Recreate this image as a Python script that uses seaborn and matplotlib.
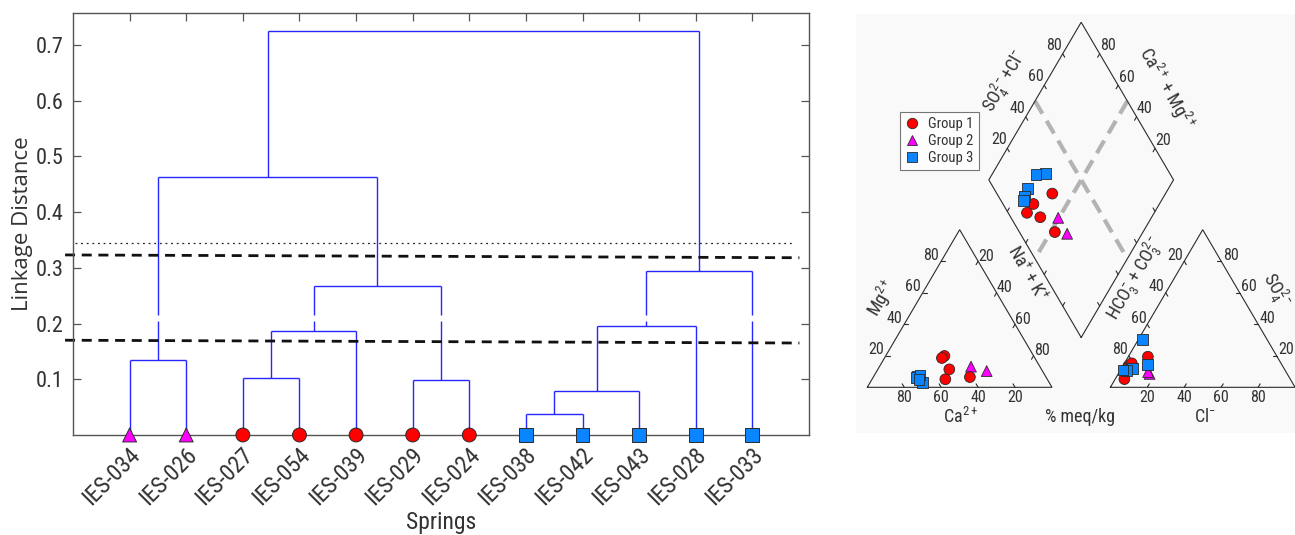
import numpy as np
import pandas as pd
import matplotlib
matplotlib.use("Agg")
import matplotlib.pyplot as plt
import seaborn as sns
from matplotlib import font_manager as fm
from matplotlib.lines import Line2D
from matplotlib.transforms import ScaledTranslation

# ---------------------------------------------------------------- data
SPRINGS = ['IES-034', 'IES-026', 'IES-027', 'IES-054', 'IES-039', 'IES-029',
           'IES-024', 'IES-038', 'IES-042', 'IES-043', 'IES-028', 'IES-033']
GROUPS = ['Group 2', 'Group 2', 'Group 1', 'Group 1', 'Group 1', 'Group 1',
          'Group 1', 'Group 3', 'Group 3', 'Group 3', 'Group 3', 'Group 3']

# linkage (leaves 0..11 in display order, merged nodes numbered 12..22)
MERGE_LEFT = [0, 2, 13, 5, 14, 12, 7, 18, 19, 20, 17]
MERGE_RIGHT = [1, 3, 4, 6, 15, 16, 8, 9, 10, 11, 21]
MERGE_HEIGHT = [0.135, 0.102, 0.187, 0.099, 0.268, 0.463,
                0.038, 0.079, 0.195, 0.294, 0.724]

# cut levels (left end, right end)
DOTTED_CUT = [0.345, 0.345]
DASHED_CUT_HIGH = [0.323, 0.318]
DASHED_CUT_LOW = [0.170, 0.165]

# Piper compositions (% meq), same order as SPRINGS
CA = [37.3, 30.2, 48.3, 50.3, 49.9, 55.2, 41.2, 68.6, 69.1, 70.1, 67.6, 69.4]
MG = [13.1, 10.3, 19.9, 18.6, 11.4, 5.1, 6.5, 2.9, 7.2, 6.3, 7.8, 5.1]
NAK = [49.6, 59.5, 31.8, 31.1, 38.7, 39.7, 52.3, 28.5, 23.7, 23.6, 24.6, 25.5]
HCO3 = [74.5, 74.7, 83.5, 89.8, 70.0, 84.0, 80.8, 67.5, 72.7, 82.0, 86.0, 87.7]
SO4 = [8.5, 9.7, 13.5, 5.2, 19.4, 12.5, 15.2, 30.4, 14.3, 12.0, 10.5, 11.0]
CL = [17.0, 15.6, 3.0, 5.0, 10.6, 3.5, 4.0, 2.1, 13.0, 6.0, 3.5, 1.3]

Y_TICKS = [0.1, 0.2, 0.3, 0.4, 0.5, 0.6, 0.7]
PIPER_TICKS = [20, 40, 60, 80]

# ---------------------------------------------------------------- style
sns.set_theme(style="white")
names = {f.name for f in fm.fontManager.ttflist}
NARROW = next((n for n in ['Liberation Sans Narrow', 'Roboto Condensed',
                           'Open Sans Condensed'] if n in names), 'Liberation Sans')
WIDE = 'Open Sans' if 'Open Sans' in names else 'DejaVu Sans'
plt.rcParams['font.family'] = [NARROW, 'DejaVu Sans']
plt.rcParams['mathtext.fontset'] = 'custom'
plt.rcParams['mathtext.rm'] = NARROW
plt.rcParams['mathtext.it'] = NARROW
plt.rcParams['mathtext.bf'] = NARROW

PALETTE = {'Group 1': '#ff0000', 'Group 2': '#ff00ff', 'Group 3': '#0a84ff'}
MARKERS = {'Group 1': 'o', 'Group 2': '^', 'Group 3': 's'}
DENDRO_COLOR = '#2626ff'
TEXT_COLOR = '#333333'
SPINE_COLOR = '#555555'

fig = plt.figure(figsize=(12.95, 5.35), dpi=100)

# ================================================================ dendrogram
ax = fig.add_axes([0.05637, 0.18692, 0.56834, 0.78879])
n = len(SPRINGS)
pos = {i: i + 1 for i in range(n)}
hgt = {i: 0.0 for i in range(n)}
GAP_LO, GAP_HI = 0.205, 0.216


def vline(x, y0, y1):
    if y0 < GAP_LO and y1 > GAP_HI:
        ax.plot([x, x], [y0, GAP_LO], color=DENDRO_COLOR, lw=1.0, solid_capstyle='butt')
        ax.plot([x, x], [GAP_HI, y1], color=DENDRO_COLOR, lw=1.0, solid_capstyle='butt')
    else:
        ax.plot([x, x], [y0, y1], color=DENDRO_COLOR, lw=1.0, solid_capstyle='butt')


for k, (l, r, h) in enumerate(zip(MERGE_LEFT, MERGE_RIGHT, MERGE_HEIGHT)):
    xl, xr = pos[l], pos[r]
    vline(xl, hgt[l], h)
    vline(xr, hgt[r], h)
    ax.plot([xl, xr], [h, h], color=DENDRO_COLOR, lw=1.0, solid_capstyle='butt')
    pos[n + k] = (xl + xr) / 2
    hgt[n + k] = h

leaf_df = pd.DataFrame({'x': np.arange(1, n + 1), 'y': np.zeros(n), 'group': GROUPS})
sns.scatterplot(data=leaf_df, x='x', y='y', hue='group', style='group',
                palette=PALETTE, markers=MARKERS, s=100, edgecolor='#2a2a2a',
                linewidth=0.7, legend=False, ax=ax, clip_on=False, zorder=5)

CUT_X = (-0.14, 12.83)
DOT_X = (0.04, 12.74)
ax.plot(DOT_X, DOTTED_CUT, color='#222222', lw=0.9, dashes=(1.5, 3), clip_on=False)
ax.plot(CUT_X, DASHED_CUT_HIGH, color='#111111', lw=2.0, dashes=(3.6, 2.4), clip_on=False)
ax.plot(CUT_X, DASHED_CUT_LOW, color='#111111', lw=2.0, dashes=(3.6, 2.4), clip_on=False)

ax.set_xlim(0, 13)
ax.set_ylim(0, 0.757)
ax.set_yticks(Y_TICKS)
ax.set_yticklabels([f'{v:.1f}' for v in Y_TICKS], fontsize=16, color=TEXT_COLOR)
ax.set_xticks(np.arange(1, n + 1))
ax.set_xticklabels(SPRINGS, rotation=45, ha='right', va='center',
                   rotation_mode='anchor', fontsize=17, color=TEXT_COLOR)
ax.tick_params(axis='both', direction='in', length=5.5, width=0.9, color=SPINE_COLOR,
               top=True, right=True, bottom=True, left=True)
ax.tick_params(axis='x', pad=12)
ax.tick_params(axis='y', pad=7)
for lab in ax.get_xticklabels():
    lab.set_transform(lab.get_transform() + ScaledTranslation(0.07, 0, fig.dpi_scale_trans))
for s in ax.spines.values():
    s.set_color(SPINE_COLOR)
    s.set_linewidth(1.0)
ax.set_xlabel('Springs', fontsize=17, color=TEXT_COLOR)
ax.xaxis.set_label_coords(0.5, -0.18)
ax.set_ylabel('Linkage Distance', fontsize=16, color=TEXT_COLOR, family=[WIDE, 'DejaVu Sans'])
ax.yaxis.set_label_coords(-0.054, 0.5)

# ================================================================ Piper diagram
ax2 = fig.add_axes([0.66100, 0.19065, 0.33900, 0.78318])
ax2.set_facecolor('#f9f9f9')
ax2.set_xticks([])
ax2.set_yticks([])
for s in ax2.spines.values():
    s.set_visible(False)

SIDE, GAP = 100.0, 31.6
K = np.sqrt(3) / 2
OX = SIDE + GAP
BX, BY = SIDE + GAP / 2, GAP * K


def cat_xy(ca, mg, na):
    t = ca + mg + na
    mg, na = mg / t * 100, na / t * 100
    return na + 0.5 * mg, K * mg


def an_xy(hco3, so4, cl):
    t = hco3 + so4 + cl
    so4, cl = so4 / t * 100, cl / t * 100
    return OX + cl + 0.5 * so4, K * so4


def dia_xy(camg, so4cl):
    return BX + 0.5 * (so4cl - camg), BY + K * (camg + so4cl)


LINE = dict(color='#2b2b2b', lw=0.8, solid_joinstyle='miter')
ax2.plot([0, SIDE, SIDE / 2, 0], [0, 0, SIDE * K, 0], **LINE)
ax2.plot([OX, OX + SIDE, OX + SIDE / 2, OX], [0, 0, SIDE * K, 0], **LINE)
corners = [dia_xy(0, 0), dia_xy(100, 0), dia_xy(100, 100), dia_xy(0, 100), dia_xy(0, 0)]
ax2.plot([c[0] for c in corners], [c[1] for c in corners], **LINE)

# 50% dashed division lines of the diamond
for a, b in [((100, 50), (0, 50)), ((50, 100), (50, 0))]:
    p, q = dia_xy(*a), dia_xy(*b)
    ax2.plot([p[0], q[0]], [p[1], q[1]], color='#b3b3b3', lw=3.0, dashes=(3.5, 2.0),
             solid_capstyle='butt', zorder=1)

TL = 2.2
NUM = dict(fontsize=11.5, color=TEXT_COLOR, ha='center', va='center')


def tick(p, d, label=None, off=(0, 0)):
    ax2.plot([p[0], p[0] + TL * d[0]], [p[1], p[1] + TL * d[1]], color='#2b2b2b', lw=0.8)
    if label is not None:
        ax2.text(p[0] + off[0], p[1] + off[1], label, **NUM)


for v in PIPER_TICKS:
    tick(cat_xy(v, 0, 100 - v), (-0.5, K), str(v), (0, -5.8))
    tick(cat_xy(100 - v, v, 0), (1, 0), str(v), (-5.3, 3.4))
    tick(cat_xy(0, 100 - v, v), (-0.5, -K), str(v), (4.4, 2.8))
    tick(an_xy(100 - v, 0, v), (0.5, K), str(v), (0, -5.8))
    tick(an_xy(v, 100 - v, 0), (0.5, -K), str(v), (-4.8, 3.4))
    tick(an_xy(0, v, 100 - v), (-1, 0), str(v), (5.1, 3.4))
    tick(dia_xy(100, v), (0.5, -K), str(v), (-4.5, 4.8))
    tick(dia_xy(v, 100), (-0.5, -K), str(v), (4.5, 4.5))
    tick(dia_xy(v, 0), (0.5, K))
    tick(dia_xy(0, v), (-0.5, K))

NAME = dict(fontsize=13, color=TEXT_COLOR, ha='center', va='center')
ax2.text(7.8, 48.9, r'Mg$^{2+}$', rotation=60, **NAME)
ax2.text(86.3, 62.6, r'Na$^{+}$ + K$^{+}$', rotation=-60, **NAME)
ax2.text(50.2, -16.2, r'Ca$^{2+}$', **NAME)
ax2.text(115.2, -16.2, '% meq/kg', **NAME)
ax2.text(182.9, -16.2, r'Cl$^{-}$', **NAME)
ax2.text(144.9, 59.9, r'HCO$_3^{-}$ + CO$_3^{2-}$', rotation=60, **NAME)
ax2.text(221.0, 53.5, r'SO$_4^{2-}$', rotation=-60, **NAME)
ax2.text(74.6, 167.9, r'SO$_4^{2-}$+Cl$^{-}$', rotation=60, **NAME)
ax2.text(162.1, 164.3, r'Ca$^{2+}$ + Mg$^{2+}$', rotation=-60, **NAME)

rows = []
for i in range(n):
    cx, cy = cat_xy(CA[i], MG[i], NAK[i])
    axx, ayy = an_xy(HCO3[i], SO4[i], CL[i])
    tc = CA[i] + MG[i] + NAK[i]
    ta = HCO3[i] + SO4[i] + CL[i]
    px, py = dia_xy((CA[i] + MG[i]) / tc * 100, (SO4[i] + CL[i]) / ta * 100)
    for x, y in [(cx, cy), (axx, ayy), (px, py)]:
        rows.append({'x': x, 'y': y, 'group': GROUPS[i]})
piper_df = pd.DataFrame(rows)
sns.scatterplot(data=piper_df, x='x', y='y', hue='group', style='group',
                palette=PALETTE, markers=MARKERS, s=60, edgecolor='#2a2a2a',
                linewidth=0.6, legend=False, ax=ax2, zorder=4)
ax2.set_xlabel('')
ax2.set_ylabel('')
ax2.set_xlim(-6.12, 231.56)
ax2.set_ylim(-25.1, 205.1)

handles = [Line2D([], [], linestyle='none', marker=MARKERS[g], markersize=7.5,
                  markerfacecolor=PALETTE[g], markeredgecolor='#2a2a2a',
                  markeredgewidth=0.6, label=g) for g in ['Group 1', 'Group 2', 'Group 3']]
leg = ax2.legend(handles=handles, loc='upper left', bbox_to_anchor=(0.1002, 0.7668),
                 borderaxespad=0, frameon=True, fancybox=False, edgecolor='#555555',
                 fontsize=10.5, handlelength=1.0, handletextpad=0.6, labelspacing=0.2,
                 borderpad=0.35)
leg.get_frame().set_linewidth(0.8)
for t in leg.get_texts():
    t.set_color(TEXT_COLOR)

fig.savefig('out.png', dpi=100, facecolor='white')
